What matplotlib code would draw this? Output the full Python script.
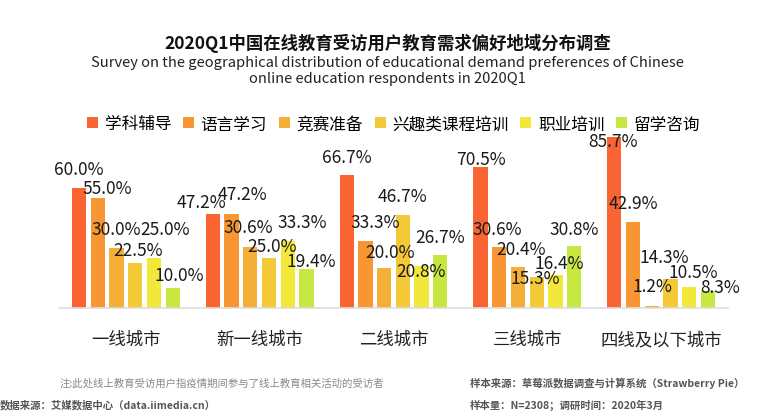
import numpy as np
import matplotlib
matplotlib.use("Agg")
import matplotlib.pyplot as plt
from matplotlib.patches import Patch

plt.rcParams['font.family'] = ['Noto Sans CJK SC', 'DejaVu Sans']

# data
cities = ['一线城市', '新一线城市', '二线城市', '三线城市', '四线及以下城市']
series_names = ['学科辅导', '语言学习', '竞赛准备', '兴趣类课程培训', '职业培训', '留学咨询']
values = {
    '学科辅导':       [60.0, 47.2, 66.7, 70.5, 85.7],
    '语言学习':       [55.0, 47.2, 33.3, 30.6, 42.9],
    '竞赛准备':       [30.0, 30.6, 20.0, 20.4, 1.2],
    '兴趣类课程培训': [22.5, 25.0, 46.7, 15.3, 14.3],
    '职业培训':       [25.0, 33.3, 20.8, 16.4, 10.5],
    '留学咨询':       [10.0, 19.4, 26.7, 30.8, 8.3],
}

colors = ['#FA6432', '#F79632', '#F4AF37', '#F4C938', '#F2E839', '#C6E840']

# label offsets (pixels) as placed in the original chart, per series then per city
label_dx = [[0, -11, 0, 0, -1],
            [9, 11, 10, -2, 0],
            [0, -2, 6, 3, 1],
            [3, 3, 0, -1, -6],
            [11, 14, -1, 4, 4],
            [7, 5, 0, 0, 12]]
label_dy = [[19, 12, 18, 8, -4],
            [10, 20, 19, 18, 19],
            [19, 20, 16, 18, 20],
            [13, 12, 19, -1, 22],
            [29, 19, -5, 12, 15],
            [13, 8, 18, 17, 4]]

fig = plt.figure(figsize=(7.75, 4.14), dpi=100)
ax = fig.add_axes([59 / 775, 105 / 414, 669 / 775, 180 / 414])

x = np.arange(len(cities))
pitch = 0.14
width = 0.107
for i, name in enumerate(series_names):
    pos = x + (i - 2.5) * pitch
    bars = ax.bar(pos, values[name], width=width, color=colors[i], zorder=2)
    for j, b in enumerate(bars):
        ax.annotate(f'{values[name][j]:.1f}%',
                    xy=(b.get_x() + b.get_width() / 2, b.get_height()),
                    xytext=(label_dx[i][j], label_dy[i][j]),
                    textcoords='offset pixels', ha='center', va='center',
                    fontsize=12.5, color='#1a1a1a', zorder=3)

ax.set_xlim(-0.5, 4.5)
ax.set_ylim(0, 90)
ax.set_yticks([])
ax.set_xticks(x)
ax.set_xticklabels(cities, fontsize=12.5, color='#222222')
ax.tick_params(axis='x', length=0, pad=16)
for s in ['top', 'right', 'left']:
    ax.spines[s].set_visible(False)
ax.spines['bottom'].set_color('#dddddd')
ax.spines['bottom'].set_linewidth(1.2)

handles = [Patch(facecolor=c, edgecolor='none') for c in colors]
fig.legend(handles, series_names, loc='center', bbox_to_anchor=(0.508, 1 - 125 / 414),
           ncol=6, frameon=False, fontsize=12, handlelength=0.66, handleheight=0.6,
           handletextpad=0.4, columnspacing=0.7)

fig.text(0.5, 1 - 43 / 414, '2020Q1中国在线教育受访用户教育需求偏好地域分布调查',
         ha='center', va='center', fontsize=12.5, fontweight='bold', color='#111111')
fig.text(0.5, 1 - 71 / 414,
         'Survey on the geographical distribution of educational demand preferences of Chinese\n'
         'online education respondents in 2020Q1',
         ha='center', va='center', fontsize=10.6, color='#222222', linespacing=1.15)

fig.text(60 / 775, 1 - 383 / 414, '注:此处线上教育受访用户指疫情期间参与了线上教育相关活动的受访者',
         ha='left', va='center', fontsize=7.5, color='#888888')
fig.text(0, 1 - 405 / 414, '数据来源：艾媒数据中心（data.iimedia.cn）',
         ha='left', va='center', fontsize=7.5, color='#555555', fontweight='bold')
fig.text(470 / 775, 1 - 383 / 414, '样本来源：草莓派数据调查与计算系统（Strawberry Pie）',
         ha='left', va='center', fontsize=7.5, color='#555555', fontweight='bold')
fig.text(470 / 775, 1 - 405 / 414, '样本量：N=2308；调研时间：2020年3月',
         ha='left', va='center', fontsize=7.5, color='#555555', fontweight='bold')

fig.savefig('out.png', dpi=100)
